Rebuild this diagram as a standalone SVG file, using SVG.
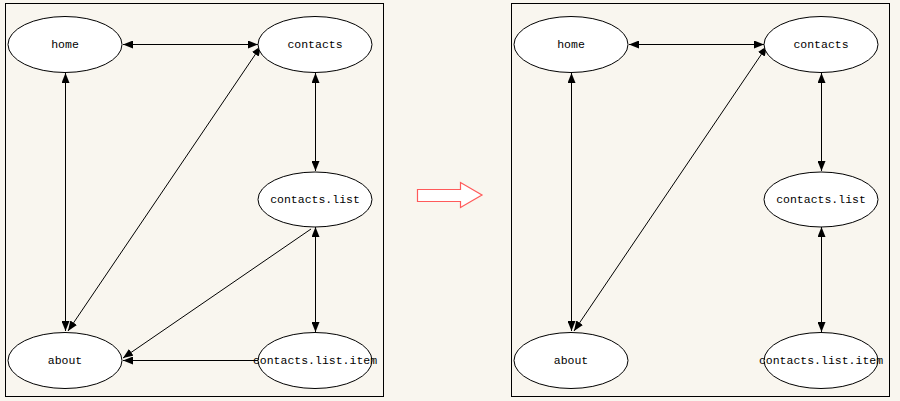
<svg xmlns="http://www.w3.org/2000/svg" width="900" height="401" viewBox="0 0 900 401">
<style>
.panel{fill:#f9f6ef;stroke:#000;stroke-width:1}
.node ellipse{fill:#fff;stroke:#000;stroke-width:1}
.node text{font-family:"Liberation Mono","DejaVu Sans Mono",monospace;font-size:11.5px;fill:#000;text-anchor:middle;dominant-baseline:central}
.edge{stroke:#000;stroke-width:1;fill:none}
.both{marker-start:url(#ah);marker-end:url(#ah)}
.one{marker-end:url(#ah)}
</style>
<defs>
<marker id="ah" viewBox="0 0 10 8" refX="10" refY="4" markerWidth="10" markerHeight="8" markerUnits="userSpaceOnUse" orient="auto-start-reverse">
<polygon points="0,0 10,4 0,8" fill="#000"/>
</marker>
</defs>
<rect x="0" y="0" width="900" height="401" fill="#f9f6ef"/>
<rect class="panel" x="5.5" y="3.5" width="378" height="393"/>
<rect class="panel" x="511.5" y="3.5" width="378" height="393"/>
<g id="connectors">
<line class="edge both" x1="123" y1="44.5" x2="258" y2="44.5"/>
<line class="edge both" x1="65.5" y1="73" x2="65.5" y2="331"/>
<line class="edge both" x1="315.5" y1="73" x2="315.5" y2="171"/>
<line class="edge both" x1="315.5" y1="227" x2="315.5" y2="332"/>
<line class="edge both" x1="68" y1="331" x2="261" y2="46"/>
<line class="edge one" x1="311" y1="229" x2="123" y2="358"/>
<line class="edge one" x1="258" y1="360.5" x2="123" y2="360.5"/>
<line class="edge both" x1="629" y1="44.5" x2="764" y2="44.5"/>
<line class="edge both" x1="571.5" y1="73" x2="571.5" y2="331"/>
<line class="edge both" x1="821.5" y1="73" x2="821.5" y2="171"/>
<line class="edge both" x1="821.5" y1="227" x2="821.5" y2="332"/>
<line class="edge both" x1="574" y1="331" x2="767" y2="46"/>
</g>
<g id="L-home" class="node"><ellipse cx="65" cy="44.5" rx="57" ry="28"/><text x="65" y="44.5">home</text></g>
<g id="L-contacts" class="node"><ellipse cx="315" cy="44.5" rx="57" ry="28"/><text x="315" y="44.5">contacts</text></g>
<g id="L-contacts-list" class="node"><ellipse cx="315" cy="199.5" rx="57" ry="27.5"/><text x="315" y="199.5">contacts.list</text></g>
<g id="L-about" class="node"><ellipse cx="65" cy="360.5" rx="57" ry="28"/><text x="65" y="360.5">about</text></g>
<g id="L-contacts-list-item" class="node"><ellipse cx="315" cy="360.5" rx="57" ry="28"/><text x="315" y="360.5">contacts.list.item</text></g>
<g id="arrow">
<polygon points="417.5,189.5 460.5,189.5 460.5,182.5 482,195 460.5,207.5 460.5,201.5 417.5,201.5" fill="#fff" stroke="#ff5a5a" stroke-width="1.2"/>
</g>
<g id="R-home" class="node"><ellipse cx="571" cy="44.5" rx="57" ry="28"/><text x="571" y="44.5">home</text></g>
<g id="R-contacts" class="node"><ellipse cx="821" cy="44.5" rx="57" ry="28"/><text x="821" y="44.5">contacts</text></g>
<g id="R-contacts-list" class="node"><ellipse cx="821" cy="199.5" rx="57" ry="27.5"/><text x="821" y="199.5">contacts.list</text></g>
<g id="R-about" class="node"><ellipse cx="571" cy="360.5" rx="57" ry="28"/><text x="571" y="360.5">about</text></g>
<g id="R-contacts-list-item" class="node"><ellipse cx="821" cy="360.5" rx="57" ry="28"/><text x="821" y="360.5">contacts.list.item</text></g>
</svg>
